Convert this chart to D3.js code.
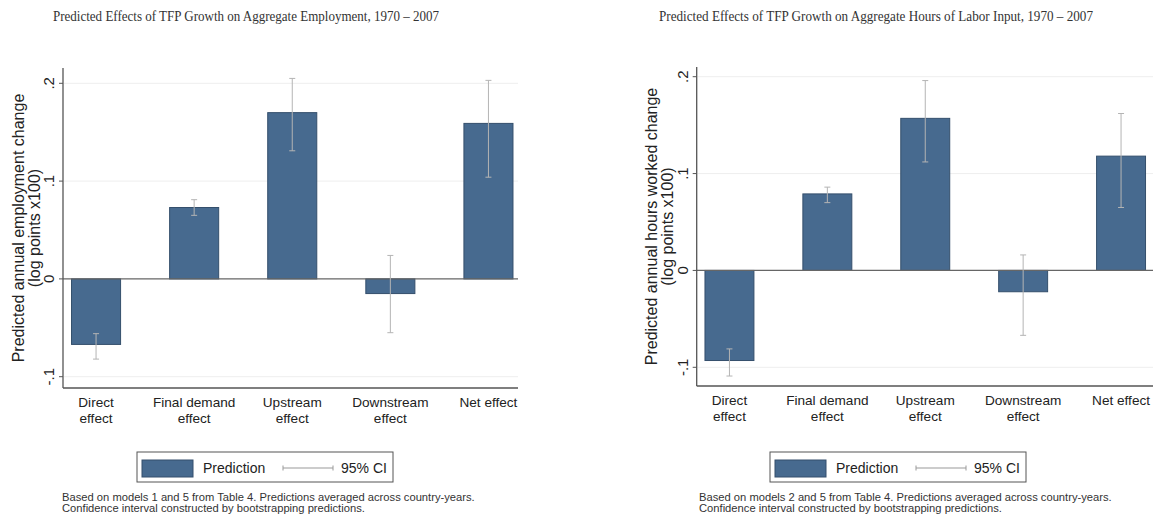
<!DOCTYPE html>
<html lang="en">
<head>
<meta charset="UTF-8">
<title>Predicted Effects of TFP Growth</title>
<script src="https://cdn.jsdelivr.net/npm/d3@7"></script>
<style>
    body { margin: 0; background: #fff; }
    text { font-family: "Liberation Sans", Arial, sans-serif; fill: #222; }
    .title { font-family: "Liberation Serif", "Times New Roman", serif; font-size: 14px; fill: #333; }
    .note { font-size: 11.2px; fill: #333; }
</style>
</head>
<body>
<script>
    // categories and tick labels
    const categories = ["Direct effect", "Final demand effect", "Upstream effect", "Downstream effect", "Net effect"];
    const catLines = [["Direct", "effect"], ["Final demand", "effect"], ["Upstream", "effect"], ["Downstream", "effect"], ["Net effect"]];
    const yTicks = [-0.1, 0, 0.1, 0.2];
    const yTickLabels = ["-.1", "0", ".1", ".2"];

    // left panel: employment
    const empPred = [-0.067, 0.073, 0.170, -0.015, 0.159];
    const empLow = [-0.082, 0.065, 0.131, -0.055, 0.104];
    const empHigh = [-0.056, 0.081, 0.205, 0.024, 0.203];

    // right panel: hours
    const hrsPred = [-0.093, 0.079, 0.157, -0.022, 0.118];
    const hrsLow = [-0.109, 0.070, 0.112, -0.067, 0.065];
    const hrsHigh = [-0.081, 0.086, 0.196, 0.016, 0.162];

    const barColor = "#476a8f";
    const barEdge = "#344f6c";
    const ciColor = "#b4b4b4";

    const svg = d3.select("body").append("svg").attr("width", 1155).attr("height", 519);

    function panel(o) {
        const g = svg.append("g");
        const y = d3.scaleLinear().domain([-0.1, 0.2]).range([o.yBot, o.yTop]);
        const x = d3.scaleBand().domain(categories).range([o.bx0, o.bx1]).paddingInner(0.5).paddingOuter(0.25);

        // title
        g.append("text").attr("class", "title").attr("x", o.titleX).attr("y", 21)
            .attr("text-anchor", "middle").attr("textLength", o.titleW).attr("lengthAdjust", "spacingAndGlyphs")
            .text(o.title);

        // faint grid
        g.selectAll("line.grid").data(yTicks.filter(d => d !== 0)).enter().append("line")
            .attr("x1", o.ax + 1).attr("x2", o.axEnd)
            .attr("y1", d => y(d)).attr("y2", d => y(d))
            .attr("stroke", "#eeeeee").attr("stroke-width", 1);

        // bars
        g.selectAll("rect.bar").data(o.pred).enter().append("rect")
            .attr("x", (d, i) => x(categories[i]))
            .attr("width", x.bandwidth())
            .attr("y", d => y(Math.max(0, d)))
            .attr("height", d => Math.abs(y(d) - y(0)))
            .attr("fill", barColor).attr("stroke", barEdge).attr("stroke-width", 1);

        // zero line
        g.append("line").attr("x1", o.ax).attr("x2", o.axEnd)
            .attr("y1", y(0)).attr("y2", y(0)).attr("stroke", "#666").attr("stroke-width", 1.2);

        // confidence intervals
        const ci = g.selectAll("g.ci").data(o.pred).enter().append("g")
            .attr("transform", (d, i) => "translate(" + (x(categories[i]) + x.bandwidth() / 2) + ",0)");
        ci.append("line").attr("y1", (d, i) => y(o.low[i])).attr("y2", (d, i) => y(o.high[i]))
            .attr("stroke", ciColor).attr("stroke-width", 1);
        ci.append("line").attr("x1", -3).attr("x2", 3)
            .attr("y1", (d, i) => y(o.low[i])).attr("y2", (d, i) => y(o.low[i]))
            .attr("stroke", ciColor);
        ci.append("line").attr("x1", -3).attr("x2", 3)
            .attr("y1", (d, i) => y(o.high[i])).attr("y2", (d, i) => y(o.high[i]))
            .attr("stroke", ciColor);

        // axes lines
        g.append("line").attr("x1", o.ax).attr("x2", o.ax).attr("y1", o.axTop).attr("y2", o.axBot)
            .attr("stroke", "#555").attr("stroke-width", 1.3);
        g.append("line").attr("x1", o.ax).attr("x2", o.axEnd).attr("y1", o.axBot).attr("y2", o.axBot)
            .attr("stroke", "#555").attr("stroke-width", 1.3);

        // y ticks
        g.selectAll("line.tick").data(yTicks).enter().append("line")
            .attr("x1", o.ax - 4).attr("x2", o.ax).attr("y1", d => y(d)).attr("y2", d => y(d))
            .attr("stroke", "#555");
        g.selectAll("text.ytl").data(yTicks).enter().append("text")
            .attr("transform", d => "translate(" + (o.ax - 9) + "," + y(d) + ") rotate(-90)")
            .attr("text-anchor", "middle").attr("font-size", 15)
            .text((d, i) => yTickLabels[i]);

        // y title
        const my = (o.axTop + o.axBot) / 2;
        o.yTitle.forEach((t, k) => {
            g.append("text")
                .attr("transform", "translate(" + (o.ytX + k * 16) + "," + my + ") rotate(-90)")
                .attr("text-anchor", "middle").attr("font-size", 16).attr("fill", "#444").text(t);
        });

        // x labels
        catLines.forEach((lines, i) => {
            lines.forEach((t, k) => {
                g.append("text").attr("x", x(categories[i]) + x.bandwidth() / 2)
                    .attr("y", o.axBot + 19 + k * 16).attr("text-anchor", "middle")
                    .attr("font-size", 13.6).text(t);
            });
        });

        // legend
        const lg = g.append("g").attr("transform", "translate(" + o.legX + ",452)");
        lg.append("rect").attr("width", 256).attr("height", 30).attr("fill", "#fff").attr("stroke", "#555");
        lg.append("rect").attr("x", 5).attr("y", 8).attr("width", 51).attr("height", 17)
            .attr("fill", barColor).attr("stroke", barEdge);
        lg.append("text").attr("x", 66).attr("y", 21).attr("font-size", 14).text("Prediction");
        lg.append("line").attr("x1", 146).attr("x2", 196).attr("y1", 16).attr("y2", 16).attr("stroke", "#999");
        lg.append("line").attr("x1", 146).attr("x2", 146).attr("y1", 13.5).attr("y2", 18.5).attr("stroke", "#999");
        lg.append("line").attr("x1", 196).attr("x2", 196).attr("y1", 13.5).attr("y2", 18.5).attr("stroke", "#999");
        lg.append("text").attr("x", 204).attr("y", 21).attr("font-size", 14).text("95% CI");

        // note
        o.note.forEach((t, k) => {
            g.append("text").attr("class", "note").attr("x", o.noteX).attr("y", 501 + k * 10.5).text(t);
        });
    }

    panel({
        title: "Predicted Effects of TFP Growth on Aggregate Employment, 1970 \u2013 2007",
        titleX: 246, titleW: 386,
        pred: empPred, low: empLow, high: empHigh,
        yTop: 83.3, yBot: 376.7, axTop: 68, axBot: 388,
        ax: 63, axEnd: 518, bx0: 47, bx1: 537.5,
        ytX: 23.5,
        yTitle: ["Predicted annual employment change", "(log points x100)"],
        legX: 137, noteX: 62,
        note: ["Based on models 1 and 5 from Table 4. Predictions averaged across country-years.",
               "Confidence interval constructed by bootstrapping predictions."]
    });

    panel({
        title: "Predicted Effects of TFP Growth on Aggregate Hours of Labor Input, 1970 \u2013 2007",
        titleX: 876, titleW: 434,
        pred: hrsPred, low: hrsLow, high: hrsHigh,
        yTop: 76.7, yBot: 367.3, axTop: 67, axBot: 386,
        ax: 696.7, axEnd: 1153, bx0: 680.5, bx1: 1170,
        ytX: 657,
        yTitle: ["Predicted annual hours worked change", "(log points x100)"],
        legX: 770, noteX: 699,
        note: ["Based on models 2 and 5 from Table 4. Predictions averaged across country-years.",
               "Confidence interval constructed by bootstrapping predictions."]
    });
</script>
</body>
</html>
